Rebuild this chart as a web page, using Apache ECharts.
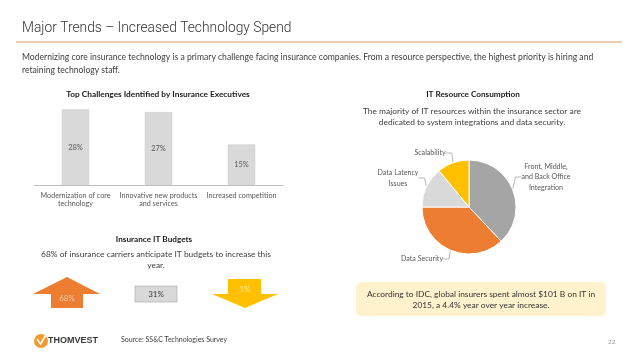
<!DOCTYPE html>
<html><head><meta charset="utf-8">
<script src="https://cdn.jsdelivr.net/npm/echarts@6/dist/echarts.min.js"></script>
<style>html,body{margin:0;padding:0;background:#fff}#c{width:638px;height:359px}</style>
</head><body><div id="c"></div>
<script>
const barCategories = ['Modernization of core\ntechnology', 'Innovative new products\nand services', 'Increased competition'];
const barValues = [28, 27, 15];
const pieNames = ['Front, Middle,\nand Back Office\nIntegration', 'Data Security', 'Data Latency\nIssues', 'Scalability'];
const pieValues = [38, 37, 14, 11];
const budgetValues = [68, 31, 1];

const F = 'Lato, "Open Sans", sans-serif';
const chart = echarts.init(document.getElementById('c'), null, {renderer: 'canvas'});
const labelPos = [[546, 177], [422, 259], [398, 178], [430, 153]];

chart.setOption({
  animation: false,
  textStyle: {fontFamily: F},
  grid: {left: 34, right: 355, top: 104, bottom: 174},
  xAxis: {
    type: 'category', data: barCategories,
    axisLine: {lineStyle: {color: '#bfbfbf'}}, axisTick: {show: false},
    axisLabel: {color: '#595959', fontSize: 7.2, lineHeight: 8.5, margin: 6, interval: 0, fontFamily: F}
  },
  yAxis: {type: 'value', min: 0, max: 30, show: false, splitLine: {show: false}},
  series: [{
    type: 'bar', data: barValues, barWidth: '33%',
    itemStyle: {color: '#d9d9d9', borderColor: '#c9c9c9', borderWidth: 0.5},
    label: {show: true, position: 'inside', formatter: '{c}%', color: '#595959', fontSize: 7.5, fontFamily: F}
  }, {
    type: 'pie', center: [469, 207], radius: 47, startAngle: 90, clockwise: true,
    data: pieValues.map((v, i) => ({value: v, name: pieNames[i]})),
    color: ['#a5a5a5', '#ed7d31', '#d9d9d9', '#ffc000'],
    itemStyle: {borderColor: '#fff', borderWidth: 1},
    label: {show: true, formatter: '{b}', color: '#595959', fontSize: 7.1, lineHeight: 10.5, align: 'center', fontFamily: F},
    labelLine: {show: true, length: 6, length2: 6, lineStyle: {color: '#8c8c8c', width: 0.6}},
    labelLayout: function (p) {
      const q = labelPos[p.dataIndex];
      return {x: q[0], y: q[1], align: 'center', verticalAlign: 'middle'};
    }
  }],
  graphic: [
    {type: 'text', left: 22, top: 22, style: {text: 'Major Trends – Increased Technology Spend', font: '300 13.8px Roboto, sans-serif', fill: '#333'}},
    {type: 'line', shape: {x1: 16, y1: 42, x2: 622, y2: 42}, style: {stroke: '#d9a066', lineWidth: 1.2}},
    {type: 'text', left: 22, top: 51, style: {text: 'Modernizing core insurance technology is a primary challenge facing insurance companies. From a resource perspective, the highest priority is hiring and\nretaining technology staff.', font: '8.6px ' + F, fill: '#404040', lineHeight: 13}},
    {type: 'text', x: 158, y: 94, style: {text: 'Top Challenges Identified by Insurance Executives', font: 'bold 8.3px ' + F, fill: '#1a1a1a', align: 'center', verticalAlign: 'middle'}},
    {type: 'text', x: 473, y: 94, style: {text: 'IT Resource Consumption', font: 'bold 8.2px ' + F, fill: '#1a1a1a', align: 'center', verticalAlign: 'middle'}},
    {type: 'text', x: 472, y: 117, style: {text: 'The majority of IT resources within the insurance sector are\ndedicated to system integrations and data security.', font: '8.4px ' + F, fill: '#404040', align: 'center', verticalAlign: 'middle', lineHeight: 11}},
    {type: 'text', x: 154, y: 239, style: {text: 'Insurance IT Budgets', font: 'bold 8.2px ' + F, fill: '#1a1a1a', align: 'center', verticalAlign: 'middle'}},
    {type: 'text', x: 156, y: 260, style: {text: '68% of insurance carriers anticipate IT budgets to increase this\nyear.', font: '8.4px ' + F, fill: '#404040', align: 'center', verticalAlign: 'middle', lineHeight: 11}},
    {type: 'polygon', shape: {points: [[33, 294], [67, 277], [100, 294], [83, 294], [83, 308], [51, 308], [51, 294]]}, style: {fill: '#ed7d31'}},
    {type: 'text', x: 67, y: 298, style: {text: budgetValues[0] + '%', font: '8px ' + F, fill: '#f8cbad', align: 'center', verticalAlign: 'middle'}},
    {type: 'rect', shape: {x: 135, y: 286, width: 42, height: 16}, style: {fill: '#d9d9d9', stroke: '#a6a6a6', lineWidth: 0.6}},
    {type: 'text', x: 156, y: 294, style: {text: budgetValues[1] + '%', font: '8px ' + F, fill: '#404040', align: 'center', verticalAlign: 'middle'}},
    {type: 'polygon', shape: {points: [[228, 279], [261, 279], [261, 294], [278, 294], [245, 308], [212, 294], [228, 294]]}, style: {fill: '#ffc000'}},
    {type: 'text', x: 245, y: 289, style: {text: budgetValues[2] + '%', font: '8px ' + F, fill: '#ffe699', align: 'center', verticalAlign: 'middle'}},
    {type: 'rect', shape: {x: 356, y: 282, width: 250, height: 34, r: 5}, style: {fill: '#fff2cc'}},
    {type: 'text', x: 481, y: 300, style: {text: 'According to IDC, global insurers spent almost $101 B on IT in\n2015, a 4.4% year over year increase.', font: '8.4px ' + F, fill: '#333', align: 'center', verticalAlign: 'middle', lineHeight: 11}},
    {type: 'circle', shape: {cx: 41, cy: 341, r: 7}, style: {fill: '#f39a2e'}},
    {type: 'polyline', shape: {points: [[37, 339], [40.5, 344], [46, 335]]}, style: {stroke: '#fff', lineWidth: 1.6, fill: null}},
    {type: 'text', x: 48, y: 341, style: {text: 'THOMVEST', font: 'bold 9px "Liberation Sans", sans-serif', fill: '#3a3a3a', verticalAlign: 'middle'}},
    {type: 'text', x: 121, y: 340, style: {text: 'Source: SS&C Technologies Survey', font: '7px ' + F, fill: '#404040', verticalAlign: 'middle'}},
    {type: 'text', x: 608, y: 342, style: {text: '22', font: '6.5px ' + F, fill: '#999', verticalAlign: 'middle'}}
  ]
});
</script></body></html>
